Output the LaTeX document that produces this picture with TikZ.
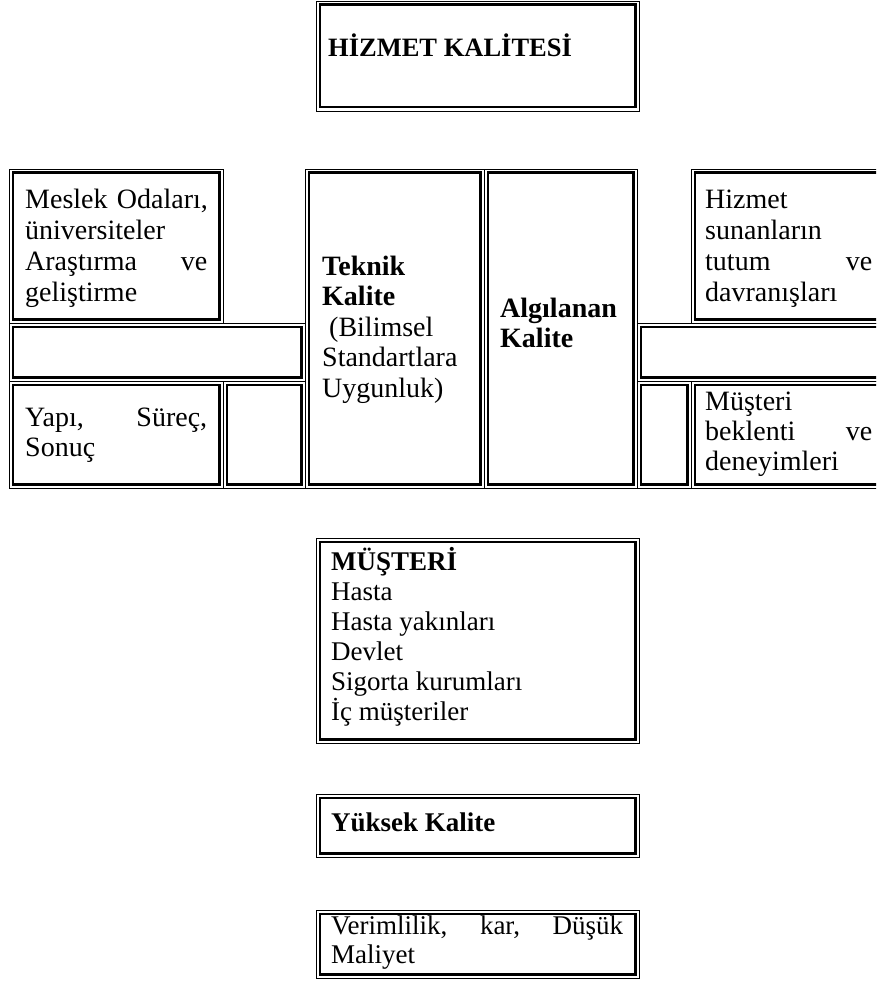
\documentclass[tikz,border=0pt]{standalone}
\usepackage{fontspec}
\setmainfont{Liberation Serif}
\tikzset{
  frame/.style={draw=none,rectangle,inner sep=0pt,outer sep=0pt,anchor=north west},
  thinline/.style={line width=0.9pt},
  thickline/.style={line width=2.8pt},
  bigtext/.style={inner sep=0pt,anchor=north west,align=left,font=\fontsize{28}{31}\selectfont},
  lowtext/.style={inner sep=0pt,anchor=north west,align=left,font=\fontsize{27}{30}\selectfont},
  boldline/.style={inner sep=0pt,anchor=base west,font=\bfseries\fontsize{27}{30}\selectfont},
}
\newcommand\dblframe[1]{%
  \draw[thinline] (#1.north west) rectangle (#1.south east);
  \draw[thickline] ([shift={(3.9,3.9)}]#1.north west) rectangle ([shift={(-3.9,-3.9)}]#1.south east);}
\begin{document}
\begin{tikzpicture}[x=1pt,y=-1pt]
\useasboundingbox (0,0) rectangle (876,984);
\fill[white] (0,0) rectangle (876,984);
\clip (0,0) rectangle (876,984);
% frames
\node[frame,minimum width=323pt,minimum height=110pt] (top) at (316,1) {};
\node[frame,minimum width=214pt,minimum height=154pt] (meslek) at (9,169) {};
\node[frame,minimum width=296pt,minimum height=58pt] (bandL) at (9,323) {};
\node[frame,minimum width=214pt,minimum height=107pt] (yapi) at (9,381) {};
\node[frame,minimum width=82pt,minimum height=107pt] (emptyL) at (223,381) {};
\node[frame,minimum width=179pt,minimum height=319pt] (teknik) at (305,169) {};
\node[frame,minimum width=153pt,minimum height=319pt] (algi) at (484,169) {};
\node[frame,minimum width=193pt,minimum height=154pt] (hizmet) at (691,169) {};
\node[frame,minimum width=247pt,minimum height=58pt] (bandR) at (637,323) {};
\node[frame,minimum width=54pt,minimum height=107pt] (emptyR) at (637,381) {};
\node[frame,minimum width=193pt,minimum height=107pt] (beklenti) at (691,381) {};
\node[frame,minimum width=323pt,minimum height=205pt] (musteri) at (316,538) {};
\node[frame,minimum width=323pt,minimum height=63pt] (yuksek) at (316,794) {};
\node[frame,minimum width=323pt,minimum height=68pt] (verim) at (316,910) {};
\foreach \n in {top,meslek,bandL,yapi,emptyL,teknik,algi,hizmet,bandR,emptyR,beklenti,musteri,yuksek,verim}{\dblframe{\n}}
% texts
\node[boldline,font=\bfseries\fontsize{26.5}{30}\selectfont] (ttop) at (328,57) {HİZMET KALİTESİ};
\node[bigtext,text width=182pt] (tmeslek) at (25,187) {\strut\mbox{Meslek Odaları,}\\ üniversiteler\\ Araştırma\hfill ve\\ geliştirme};
\node[bigtext,text width=155pt,font=\fontsize{28}{30.5}\selectfont] (tteknik) at (322,253.6) {\strut\textbf{Teknik}\\ \textbf{Kalite}\\ \hspace*{0.25em}(Bilimsel\\ Standartlara\\ Uygunluk)};
\node[bigtext,font=\fontsize{28}{30.5}\selectfont] (talgi) at (500,295.6) {\strut\textbf{Algılanan}\\ \textbf{Kalite}};
\node[bigtext,text width=167pt] (thizmet) at (705,187) {\strut Hizmet\\ sunanların\\ tutum\hfill ve\\ davranışları};
\node[bigtext,text width=182pt,font=\fontsize{28}{30}\selectfont] (tyapi) at (25,405) {\strut Yapı,\hfill Süreç,\\ Sonuç};
\node[bigtext,text width=167pt,font=\fontsize{28}{30}\selectfont] (tbeklenti) at (705,389) {\strut Müşteri\\ beklenti\hfill ve\\ deneyimleri};
\node[lowtext] (tmusteri) at (331,547) {\strut\textbf{MÜŞTERİ}\\ Hasta\\ Hasta yakınları\\ Devlet\\ Sigorta kurumları\\ İç müşteriler};
\node[boldline] (tyuksek) at (331,831) {Yüksek Kalite};
\node[lowtext,font=\fontsize{27}{29}\selectfont,text width=292pt] (tverim) at (331,913.7) {\strut Verimlilik,\hfill kar,\hfill Düşük\\ Maliyet};
\end{tikzpicture}
\end{document}
